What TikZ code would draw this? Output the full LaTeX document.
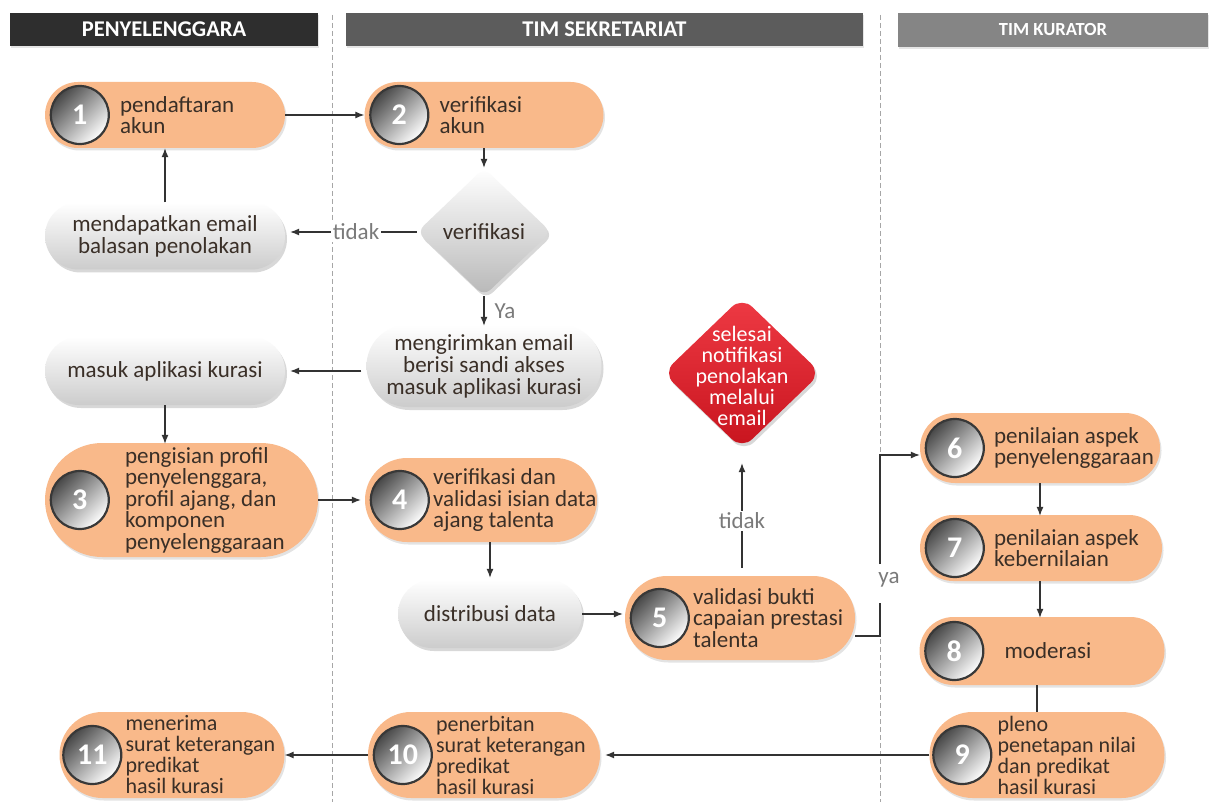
\documentclass[tikz,border=0pt]{standalone}
\usepackage{fontspec}
\setmainfont{Carlito}
\usetikzlibrary{shapes.geometric,shapes.misc,shadows,arrows.meta}
\definecolor{orng}{HTML}{F9B98A}
\definecolor{hdrA}{HTML}{2E2E2E}
\definecolor{hdrB}{HTML}{5C5C5C}
\definecolor{hdrC}{HTML}{858585}
\definecolor{txtc}{HTML}{3A2F27}
\definecolor{lblc}{HTML}{7A7A7A}
\definecolor{redA}{HTML}{EE3A44}
\definecolor{redB}{HTML}{C8141E}
\begin{document}
\begin{tikzpicture}[x=1pt,y=-1pt,
  hdr/.style={rectangle, inner sep=0, text=white, font=\fontsize{22.5}{24}\selectfont\bfseries,
     drop shadow={opacity=0.2,shadow xshift=1pt,shadow yshift=-2pt}},
  opill/.style={rounded rectangle, fill=orng, draw=none, inner sep=0,
     drop shadow={opacity=0.22,shadow xshift=1.5pt,shadow yshift=-2.5pt}},
  gpill/.style={rounded rectangle, draw=none, inner sep=0, top color=white, bottom color=black!20,
     text=txtc, align=center, font=\fontsize{23}{22}\selectfont,
     drop shadow={opacity=0.3,shadow xshift=2pt,shadow yshift=-3pt}},
  ball/.style={circle, minimum size=58pt, inner sep=0, draw=black!78, line width=2.2pt,
     top color=black!72, middle color=black!40, bottom color=white, shading angle=45,
     text=white, font=\fontsize{30}{32}\selectfont\bfseries},
  txt/.style={anchor=west, align=left, inner sep=0, text=txtc, font=\fontsize{23}{21.5}\selectfont},
  ctxt/.style={anchor=west, align=left, inner sep=0, text=txtc, font=\fontsize{22}{21}\selectfont},
  conn/.style={-{Latex[length=9pt,width=7pt]}, line width=1.1pt, draw=black!80},
  plain/.style={line width=1.1pt, draw=black!80},
  lbl/.style={fill=white, inner sep=2pt, text=lblc, font=\fontsize{23}{22}\selectfont},
  lane/.style={dashed, draw=black!35, line width=0.8pt, dash pattern=on 5pt off 3pt}
]
\useasboundingbox (0,0) rectangle (1215,810);
\fill[white] (0,0) rectangle (1215,810);

% lanes
\draw[lane] (332,15) -- (332,802);
\draw[lane] (880,15) -- (880,802);

% headers
\node[hdr, fill=hdrA, minimum width=308pt, minimum height=33pt] (h1) at (164,29.5) {PENYELENGGARA};
\node[hdr, fill=hdrB, minimum width=517pt, minimum height=33pt] (h2) at (604.5,29.5) {TIM SEKRETARIAT};
\node[hdr, fill=hdrC, minimum width=310pt, minimum height=34pt, font=\fontsize{18.5}{20}\selectfont\bfseries] (h3) at (1053,30) {TIM KURATOR};

% node 1
\node[opill, minimum width=240pt, minimum height=66pt] (n1) at (165,115) {};
\node[ball] (c1) at ([xshift=35pt]n1.west) {1};
\node[txt] (t1) at ([xshift=10pt]c1.east) {pendaftaran\\akun};

% node 2
\node[opill, minimum width=239pt, minimum height=66pt] (n2) at (484,115) {};
\node[ball] (c2) at ([xshift=35pt]n2.west) {2};
\node[txt] (t2) at ([xshift=10pt]c2.east) {verifikasi\\akun};

% verifikasi diamond
\node[diamond, minimum width=134pt, minimum height=128pt, inner sep=0, rounded corners=9pt,
      top color=white, bottom color=black!28, text=txtc, font=\fontsize{23}{22}\selectfont,
      drop shadow={opacity=0.3,shadow xshift=2pt,shadow yshift=-3pt}] (ver) at (484,232) {verifikasi};

% rejection email
\node[gpill, minimum width=240pt, minimum height=67pt] (rej) at (165,236) {mendapatkan email\\balasan penolakan};

% send email
\node[gpill, minimum width=235pt, minimum height=82pt] (send) at (484,366) {mengirimkan email\\berisi sandi akses\\masuk aplikasi kurasi};

% masuk aplikasi
\node[gpill, minimum width=240pt, minimum height=68pt] (masuk) at (165,371) {masuk aplikasi kurasi};

% node 3
\node[opill, minimum width=273pt, minimum height=114pt] (n3) at (181.5,500) {};
\node[ball] (c3) at ([xshift=35pt]n3.west) {3};
\node[txt] (t3) at ([xshift=15pt]c3.east) {pengisian profil\\penyelenggara,\\profil ajang, dan\\komponen\\penyelenggaraan};

% node 4
\node[opill, minimum width=232pt, minimum height=84pt] (n4) at (481,500) {};
\node[ball] (c4) at ([xshift=35pt]n4.west) {4};
\node[txt] (t4) at ([xshift=3pt]c4.east) {verifikasi dan\\validasi isian data\\ajang talenta};

% distribusi
\node[gpill, minimum width=184pt, minimum height=68pt] (dist) at (490,614) {distribusi data};

% node 5
\node[opill, minimum width=230pt, minimum height=84pt] (n5) at (740,618) {};
\node[ball] (c5) at ([xshift=35pt]n5.west) {5};
\node[txt] (t5) at ([xshift=3pt]c5.east) {validasi bukti\\capaian prestasi\\talenta};

% red diamond
\node[diamond, minimum width=158pt, minimum height=152pt, inner sep=0, rounded corners=14pt,
      top color=redA, bottom color=redB,
      drop shadow={opacity=0.3,shadow xshift=2pt,shadow yshift=-3pt}] (red) at (742,373) {};
\node[align=center, inner sep=0, text=white, font=\fontsize{22}{21}\selectfont] (redt) at (742,376)
   {selesai\\notifikasi\\penolakan\\melalui\\email};

% node 6
\node[opill, minimum width=240pt, minimum height=70pt] (n6) at (1040,448) {};
\node[ball] (c6) at ([xshift=35pt]n6.west) {6};
\node[txt] (t6) at ([xshift=9pt]c6.east) {penilaian aspek\\penyelenggaraan};

% node 7
\node[opill, minimum width=242pt, minimum height=66pt] (n7) at (1041,548) {};
\node[ball] (c7) at ([xshift=35pt]n7.west) {7};
\node[txt] (t7) at ([xshift=9pt]c7.east) {penilaian aspek\\kebernilaian};

% node 8
\node[opill, minimum width=245pt, minimum height=68pt] (n8) at (1042,651) {};
\node[ball] (c8) at ([xshift=35pt]n8.west) {8};
\node[txt] (t8) at ([xshift=20pt]c8.east) {moderasi};

% node 9
\node[opill, minimum width=235pt, minimum height=86pt] (n9) at (1047,755) {};
\node[ball] (c9) at ([xshift=33pt]n9.west) {9};
\node[ctxt] (t9) at ([xshift=5pt]c9.east) {pleno\\penetapan nilai\\dan predikat\\hasil kurasi};

% node 10
\node[opill, minimum width=232pt, minimum height=86pt] (n10) at (484,755) {};
\node[ball] (c10) at ([xshift=35pt]n10.west) {10};
\node[ctxt] (t10) at ([xshift=3pt]c10.east) {penerbitan\\surat keterangan\\predikat\\hasil kurasi};

% node 11
\node[opill, minimum width=225pt, minimum height=86pt] (n11) at (172,755) {};
\node[ball] (c11) at ([xshift=33pt]n11.west) {11};
\node[ctxt] (t11) at ([xshift=3pt]c11.east) {menerima\\surat keterangan\\predikat\\hasil kurasi};

% connectors
\draw[conn] (n1.east) -- (n2.west);
\draw[conn] (n2.south) -- (ver.north);
\draw[conn] (ver.west) -- node[lbl, pos=0.48] (lt1) {tidak} ([xshift=5pt]rej.east |- ver.west);
\draw[conn] (rej.north) -- (n1.south);
\draw[conn] (ver.south) -- node[right, xshift=10pt, inner sep=0, text=lblc, font=\fontsize{23}{22}\selectfont] (lya) {Ya} ([yshift=-1pt]send.north);
\draw[conn] ([xshift=-5pt]send.west |- masuk.east) -- ([xshift=5pt]masuk.east);
\draw[conn] (masuk.south) -- ([yshift=-1pt]n3.north -| masuk.south);
\draw[conn] (n3.east) -- ([xshift=-4pt]n4.west);
\draw[conn] (dist.north |- n4.south) -- ([yshift=2pt]dist.north);
\draw[conn] (dist.east) -- ([xshift=-2pt]n5.west |- dist.east);
\draw[conn] ([yshift=8pt]n5.north -| red.south) -- node[lbl, pos=0.45] (lt2) {tidak} ([yshift=-14pt]red.south);
% ya connector with gap for label
\fill[white] (876,564) rectangle (884,603);
\node[inner sep=0, text=lblc, font=\fontsize{23}{22}\selectfont] (lya2) at (889,580) {ya};
\draw[plain] ([yshift=-18pt]n5.east) -- (880,636) -- (880,603);
\draw[conn] (880,564) -- (880,455) -- ([yshift=-7pt]n6.west);
\draw[conn] (1040,483) -- ([yshift=-1pt]n7.north -| 1040,483);
\draw[conn] (1040,581) -- ([yshift=-1pt]n8.north -| 1040,581);
\draw[plain] (1037,685) -- (1037,712);
\draw[conn] (n9.west) -- ([xshift=5pt]n10.east);
\draw[conn] (n10.west) -- (n11.east);
\end{tikzpicture}
\end{document}
